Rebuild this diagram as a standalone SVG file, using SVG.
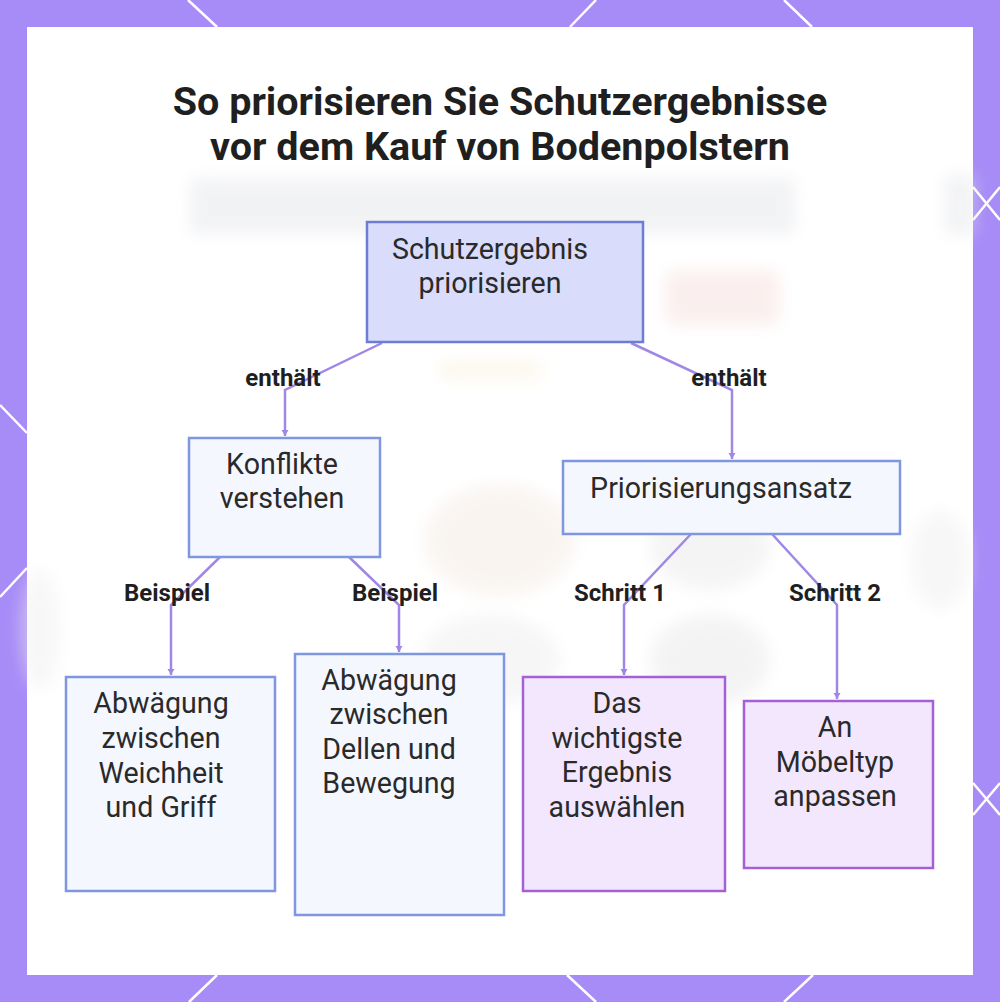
<svg xmlns="http://www.w3.org/2000/svg" width="1000" height="1002" viewBox="0 0 1000 1002">
<defs>
<style>
.frame-line{stroke:#ffffff;stroke-width:2.5;fill:none}
.title{font-family:Roboto,"Liberation Sans",sans-serif;font-weight:700;font-size:39.5px;fill:#1f1f1f;text-anchor:middle}
.nt{font-family:Roboto,"Liberation Sans",sans-serif;font-size:28.6px;fill:#2a2a2a;text-anchor:middle}
.lbl{font-family:Roboto,"Liberation Sans",sans-serif;font-weight:700;font-size:24px;fill:#1f1f1f;text-anchor:middle}
.root{fill:#d9dcfb;stroke:#6b7dd4;stroke-width:2.5}
.blue{fill:#f5f7ff;stroke:#7f97e0;stroke-width:2.5}
.purp{fill:#f3e7fe;stroke:#a560d6;stroke-width:2.5}
.edge{fill:none;stroke:#a087e6;stroke-width:2.5}
</style>
<marker id="arr" markerWidth="8" markerHeight="8" refX="4" refY="7" orient="0" markerUnits="userSpaceOnUse">
<path d="M0.5,1 L4,7 L7.5,1 Z" fill="#a087e6"/>
</marker>
<filter id="blur" x="-20%" y="-50%" width="140%" height="200%"><feGaussianBlur stdDeviation="8"/></filter>
</defs>
<rect x="0" y="0" width="1000" height="1002" fill="#a78bf7"/>
<g id="frame-lines">
<line class="frame-line" x1="188" y1="0" x2="217" y2="27"/>
<line class="frame-line" x1="596" y1="0" x2="570" y2="27"/>
<line class="frame-line" x1="784" y1="0" x2="812" y2="27"/>
<line class="frame-line" x1="217" y1="975" x2="189" y2="1002"/>
<line class="frame-line" x1="567" y1="975" x2="596" y2="1002"/>
<line class="frame-line" x1="813" y1="975" x2="784" y2="1002"/>
<line class="frame-line" x1="0" y1="405" x2="27" y2="433"/>
<line class="frame-line" x1="0" y1="597" x2="27" y2="568"/>
<line class="frame-line" x1="973" y1="187" x2="1000" y2="220"/>
<line class="frame-line" x1="973" y1="220" x2="1000" y2="187"/>
<line class="frame-line" x1="973" y1="783" x2="1000" y2="815"/>
<line class="frame-line" x1="973" y1="815" x2="1000" y2="783"/>
</g>
<rect x="27" y="27" width="946" height="948" fill="#ffffff"/>
<g id="background" opacity="0.45" filter="url(#blur)">
<rect x="190" y="178" width="605" height="56" rx="6" fill="#e2e4e8"/>
<rect x="945" y="175" width="30" height="60" fill="#e2e4e8"/>
<rect x="665" y="270" width="115" height="55" rx="10" fill="#f6dcda"/>
<rect x="440" y="362" width="100" height="16" fill="#f8ecd0"/>
<ellipse cx="500" cy="540" rx="75" ry="55" fill="#f2e8e0"/>
<ellipse cx="710" cy="545" rx="60" ry="45" fill="#e8e8e8"/>
<ellipse cx="490" cy="660" rx="70" ry="45" fill="#ececec"/>
<ellipse cx="710" cy="660" rx="60" ry="45" fill="#e6e6e6"/>
<ellipse cx="940" cy="560" rx="30" ry="50" fill="#eeeeee"/>
<ellipse cx="40" cy="630" rx="20" ry="60" fill="#eeeeee"/>
</g>
<g id="title">
<text class="title" x="500" y="115">So priorisieren Sie Schutzergebnisse</text>
<text class="title" x="500" y="160">vor dem Kauf von Bodenpolstern</text>
</g>
<g id="connectors">
<path class="edge" d="M382,343 L285,390 L285,436" marker-end="url(#arr)"/>
<path class="edge" d="M631,343 L732,390 L732,459" marker-end="url(#arr)"/>
<path class="edge" d="M220,557 L171,605 L171,675" marker-end="url(#arr)"/>
<path class="edge" d="M349,557 L399,605 L399,652" marker-end="url(#arr)"/>
<path class="edge" d="M691,534 L624,605 L624,675" marker-end="url(#arr)"/>
<path class="edge" d="M772,534 L837,605 L837,699" marker-end="url(#arr)"/>
<text class="lbl" x="283" y="386">enthält</text>
<text class="lbl" x="729" y="386">enthält</text>
<text class="lbl" x="167" y="601">Beispiel</text>
<text class="lbl" x="395" y="601">Beispiel</text>
<text class="lbl" x="620" y="601">Schritt 1</text>
<text class="lbl" x="835" y="601">Schritt 2</text>
</g>
<g id="node-root">
<rect class="root" x="367" y="222" width="276" height="120"/>
<text class="nt" x="490" y="259">Schutzergebnis</text>
<text class="nt" x="490" y="293">priorisieren</text>
</g>
<g id="node-konflikte">
<rect class="blue" x="189" y="438" width="191" height="119"/>
<text class="nt" x="282" y="474">Konflikte</text>
<text class="nt" x="282" y="508">verstehen</text>
</g>
<g id="node-ansatz">
<rect class="blue" x="563" y="461" width="337" height="73"/>
<text class="nt" x="721" y="498">Priorisierungsansatz</text>
</g>
<g id="node-abw1">
<rect class="blue" x="66" y="677" width="209" height="214"/>
<text class="nt" x="161" y="713">Abwägung</text>
<text class="nt" x="161" y="748">zwischen</text>
<text class="nt" x="161" y="783">Weichheit</text>
<text class="nt" x="161" y="817">und Griff</text>
</g>
<g id="node-abw2">
<rect class="blue" x="295" y="654" width="209" height="261"/>
<text class="nt" x="389" y="690">Abwägung</text>
<text class="nt" x="389" y="724">zwischen</text>
<text class="nt" x="389" y="759">Dellen und</text>
<text class="nt" x="389" y="793">Bewegung</text>
</g>
<g id="node-das">
<rect class="purp" x="523" y="677" width="202" height="214"/>
<text class="nt" x="617" y="713">Das</text>
<text class="nt" x="617" y="748">wichtigste</text>
<text class="nt" x="617" y="782">Ergebnis</text>
<text class="nt" x="617" y="817">auswählen</text>
</g>
<g id="node-an">
<rect class="purp" x="744" y="701" width="189" height="167"/>
<text class="nt" x="835" y="737">An</text>
<text class="nt" x="835" y="772">Möbeltyp</text>
<text class="nt" x="835" y="806">anpassen</text>
</g>
</svg>
